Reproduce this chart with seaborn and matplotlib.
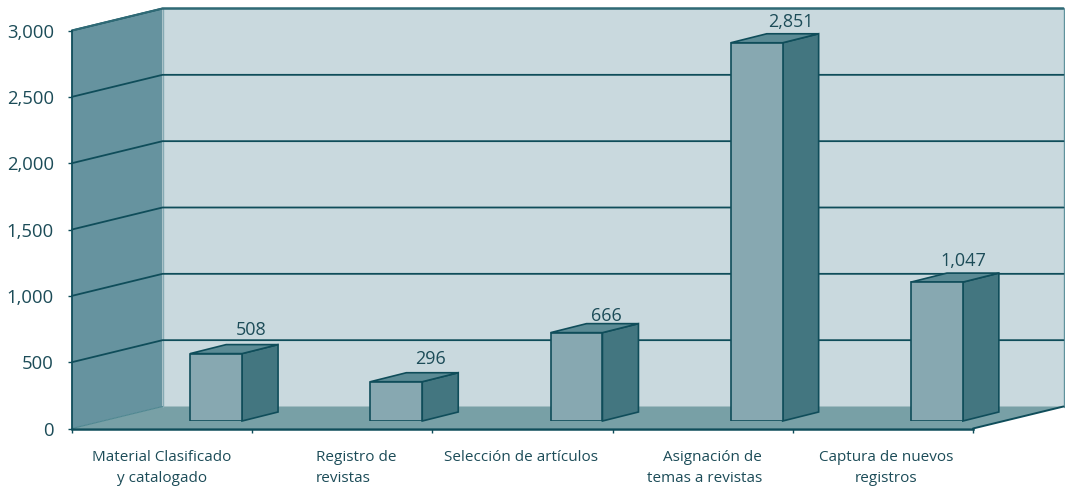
import matplotlib
matplotlib.use("Agg")
import matplotlib.pyplot as plt
from matplotlib.transforms import ScaledTranslation
import pandas as pd
import seaborn as sns

categories = ["Material Clasificado\ny catalogado", "Registro de\nrevistas",
              "Selección de artículos", "Asignación de\ntemas a revistas",
              "Captura de nuevos\nregistros"]
values = [508, 296, 666, 2851, 1047]
y_ticks = [0, 500, 1000, 1500, 2000, 2500, 3000]

sns.set_theme(style="white")
plt.rcParams["font.family"] = ["Open Sans", "DejaVu Sans"]

W, H = 1065, 487
INK = "#0f4d5a"
TXT = "#1c4c58"
fig = plt.figure(figsize=(W / 100, H / 100), dpi=100, facecolor="white")


def box(x0, x1, y_bottom, y_top):
    return [x0 / W, 1 - y_bottom / H, (x1 - x0) / W, (y_bottom - y_top) / H]


# front plane of the chart
ax = fig.add_axes(box(72, 973, 428.5, 30.5))
ax.set_facecolor("none")
ax.set_xlim(-0.5, 4.5)
ax.set_ylim(0, 3000)
px_x = 901 / 5          # pixels per category
px_y = 398 / 3000       # pixels per value unit
dx = 90.5 / px_x
dy = 22 / px_y
xl, xr = -0.5, 4.5
top = 3000

# walls and floor
ax.fill([xl, xl + dx, xl + dx, xl], [0, dy, top + dy, top], color="#66939f", lw=0, zorder=1,
        clip_on=False)
ax.fill([xl + dx, xr + dx, xr + dx, xl + dx], [dy, dy, top + dy, top + dy],
        color="#c9d9de", lw=0, zorder=1, clip_on=False)
ax.fill([xl, xr, xr + dx, xl + dx], [0, 0, dy, dy], color="#78a0a6", lw=0, zorder=1.5, clip_on=False)
ax.plot([xl + dx, xl + dx], [dy, top + dy], color="#86abb4", lw=1, zorder=2, clip_on=False)
ax.plot([xr + dx, xr + dx], [dy, top + dy], color="#5f929c", lw=1, zorder=2, clip_on=False)
for v in y_ticks[1:]:
    ax.plot([xl, xl + dx, xr + dx], [v, v + dy, v + dy], color=INK, lw=1.3, zorder=2,
            clip_on=False, solid_joinstyle="miter")
ax.plot([xl, xl + dx], [0, dy], color="#4f8791", lw=0.8, zorder=2)
ax.plot([xr, xr + dx], [0, dy], color=INK, lw=1.4, zorder=2, clip_on=False)
ax.plot([xl, xl + dx, xr + dx], [top, top + dy, top + dy], color="#2f6a76", lw=1.5, zorder=2,
        clip_on=False)

# axes
sns.despine(ax=ax, top=True, right=True)
ax.spines["left"].set(color=INK, linewidth=1.3, zorder=3)
ax.spines["bottom"].set(color=INK, linewidth=1.8, zorder=3)
ax.set_yticks(y_ticks, [f"{v:,}" for v in y_ticks])
ax.set_xticks(range(len(categories)), categories)
ax.set_xticks([i + 0.5 for i in range(-1, 5)], minor=True)
ax.tick_params(axis="y", length=3, width=1, color=INK, labelcolor=TXT, labelsize=13.3, pad=10, left=True)
ax.tick_params(axis="x", which="major", length=0, labelcolor=TXT, labelsize=11, pad=15.5)
ax.tick_params(axis="x", which="minor", length=3, width=1, color=INK, bottom=True)
xlabels = ax.get_xticklabels()
for lab in xlabels:
    lab.set_linespacing(1.55)
label_shift_px = [0, 14, -1, 2, 3]
for lab, s in zip(xlabels, label_shift_px):
    lab.set_transform(lab.get_transform() + ScaledTranslation(s / 100, 0, fig.dpi_scale_trans))
xlabels[1].set_multialignment("left")
xlabels[3].set_multialignment("right")

# bars, sitting on a plane part way into the depth
ax2 = fig.add_axes(box(72 + 54, 973 + 54, 421, 23))
ax2.set_facecolor("none")
ax2.patch.set_alpha(0)
df = pd.DataFrame({"categoria": categories, "valor": values})
sns.barplot(data=df, x="categoria", y="valor", ax=ax2, width=0.288, color="#87a8b1",
            saturation=1, edgecolor=INK, linewidth=1.2, zorder=4)
ax2.set_xlim(-0.5, 4.5)
ax2.set_ylim(0, 3000)
ax2.axis("off")

bx = 36 / px_x
by = 9 / px_y
label_nudge = [(35, 24), (34, 23), (30, 17), (34, 21), (26, 21)]
for bar, v, (nx, ny) in zip(ax2.patches, values, label_nudge):
    x0, x1 = bar.get_x(), bar.get_x() + bar.get_width()
    h = bar.get_height()
    ax2.fill([x1, x1 + bx, x1 + bx, x1], [0, by, h + by, h], facecolor="#437680",
             edgecolor=INK, lw=1.2, zorder=3, clip_on=False, joinstyle="miter")
    ax2.fill([x0, x1, x1 + bx, x0 + bx], [h, h, h + by, h + by], facecolor="#5b8b95",
             edgecolor=INK, lw=1.2, zorder=3, clip_on=False, joinstyle="miter")
    ax2.annotate(f"{v:,}", xy=((x0 + x1) / 2, h), xytext=(nx * 0.72, ny * 0.72),
                 textcoords="offset points", ha="center", va="center",
                 color=TXT, fontsize=13, annotation_clip=False, zorder=6)

fig.savefig("out.png", dpi=100)
